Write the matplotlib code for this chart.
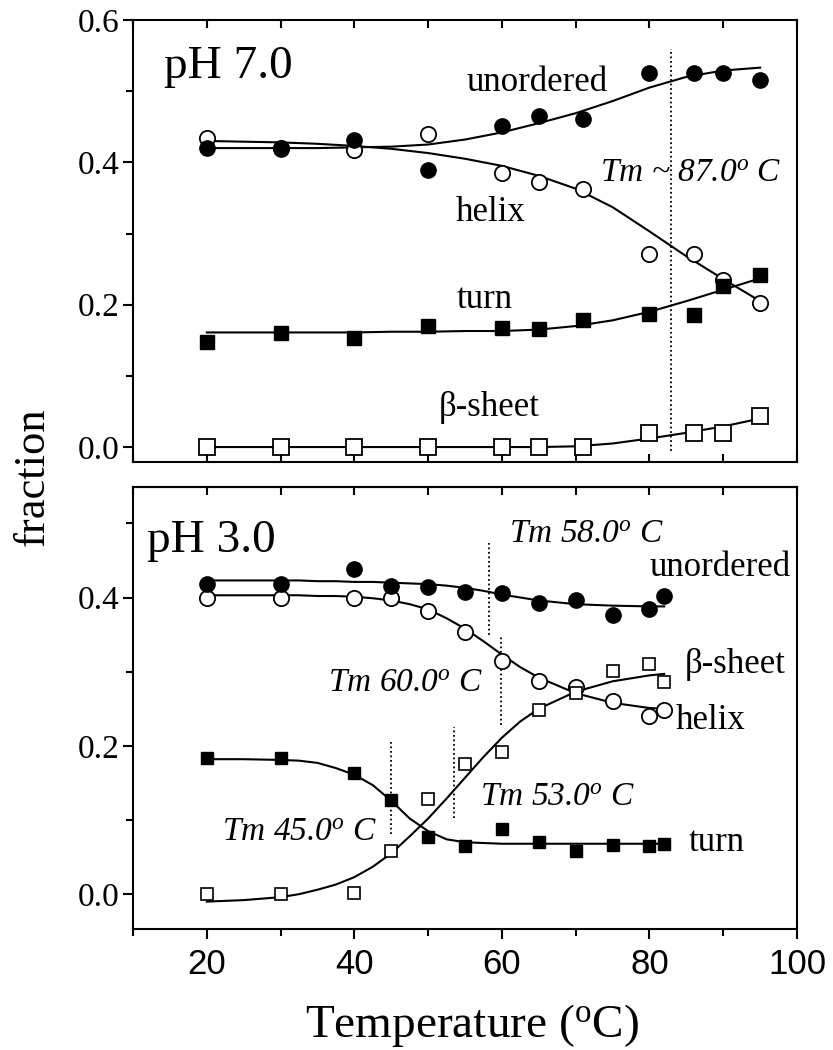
# Thermal unfolding: secondary structure fractions vs temperature at pH 7.0 and pH 3.0

import numpy as np
import matplotlib
matplotlib.use('Agg')
from matplotlib import pyplot as plt
from matplotlib.ticker import MultipleLocator, FormatStrFormatter

plt.rcParams['font.family'] = ['Liberation Serif', 'DejaVu Serif']
plt.rcParams['mathtext.fontset'] = 'custom'
plt.rcParams['mathtext.rm'] = 'Liberation Serif'
plt.rcParams['mathtext.it'] = 'Liberation Serif:italic'

# ---- pH 7.0 data (points) ----
t7 = [20, 30, 40, 50, 60, 65, 71, 80, 86, 90, 95]
unord7 = [0.420, 0.419, 0.431, 0.389, 0.451, 0.465, 0.461, 0.526, 0.526, 0.526, 0.515]
helix7 = [0.434, 0.420, 0.418, 0.440, 0.385, 0.372, 0.362, 0.271, 0.271, 0.235, 0.202]
turn7 = [0.148, 0.160, 0.153, 0.170, 0.167, 0.166, 0.178, 0.187, 0.186, 0.226, 0.241]
beta7 = [0.000, 0.000, 0.000, 0.000, 0.000, 0.000, 0.000, 0.020, 0.020, 0.020, 0.044]

# pH 7.0 fitted curves
tf7 = [20, 25, 30, 35, 40, 45, 50, 55, 60, 65, 70, 75, 80, 85, 90, 95]
unord7_fit = [0.420, 0.420, 0.420, 0.420, 0.421, 0.422, 0.425, 0.432, 0.442, 0.455, 0.469, 0.486, 0.505, 0.520, 0.529, 0.533]
helix7_fit = [0.430, 0.429, 0.428, 0.426, 0.423, 0.419, 0.413, 0.405, 0.395, 0.381, 0.363, 0.337, 0.303, 0.268, 0.236, 0.205]
turn7_fit = [0.161, 0.161, 0.161, 0.161, 0.161, 0.162, 0.162, 0.163, 0.163, 0.165, 0.170, 0.178, 0.190, 0.205, 0.221, 0.237]
beta7_fit = [0.000, 0.000, 0.000, 0.000, 0.000, 0.000, 0.000, 0.000, 0.000, 0.000, 0.001, 0.005, 0.012, 0.020, 0.029, 0.040]

# ---- pH 3.0 data (points) ----
t3 = [20, 30, 40, 45, 50, 55, 60, 65, 70, 75, 80, 82]
unord3 = [0.418, 0.418, 0.439, 0.415, 0.414, 0.407, 0.406, 0.393, 0.397, 0.376, 0.384, 0.402]
helix3 = [0.400, 0.400, 0.400, 0.400, 0.382, 0.353, 0.314, 0.288, 0.279, 0.261, 0.240, 0.248]
turn3 = [0.183, 0.183, 0.163, 0.127, 0.077, 0.065, 0.088, 0.071, 0.058, 0.066, 0.065, 0.068]
beta3 = [0.000, 0.000, 0.001, 0.058, 0.128, 0.176, 0.192, 0.248, 0.271, 0.301, 0.310, 0.286]

# pH 3.0 fitted curves
tf3 = [20, 25, 30, 32.5, 35, 37.5, 40, 42.5, 45, 47.5, 50, 52.5, 55, 57.5, 60, 62.5, 65, 70, 75, 80, 82]
unord3_fit = [0.423, 0.423, 0.423, 0.423, 0.422, 0.422, 0.421, 0.421, 0.420, 0.419, 0.418,
              0.416, 0.413, 0.409, 0.404, 0.400, 0.396, 0.391, 0.389, 0.388, 0.388]
helix3_fit = [0.403, 0.403, 0.403, 0.403, 0.402, 0.402, 0.401, 0.399, 0.396, 0.391, 0.384,
              0.372, 0.358, 0.341, 0.323, 0.306, 0.292, 0.271, 0.258, 0.251, 0.250]
turn3_fit = [0.182, 0.182, 0.181, 0.180, 0.177, 0.170, 0.161, 0.147, 0.126, 0.102, 0.085,
             0.074, 0.070, 0.069, 0.068, 0.068, 0.068, 0.068, 0.068, 0.068, 0.068]
beta3_fit = [-0.010, -0.008, -0.004, 0.000, 0.006, 0.013, 0.023, 0.037, 0.055, 0.078, 0.102,
             0.129, 0.157, 0.185, 0.211, 0.233, 0.250, 0.273, 0.287, 0.295, 0.297]

# Tm guide lines: (x, ymin, ymax)
tm7 = [(82.9, -0.006, 0.559)]
tm3 = [(45.0, 0.081, 0.205), (53.5, 0.103, 0.226), (58.3, 0.350, 0.473), (59.9, 0.228, 0.350)]

fig = plt.figure(figsize=(8.33, 10.5), dpi=100)
ax1 = fig.add_axes([0.1597, 0.560, 0.7971, 0.4210])
ax2 = fig.add_axes([0.1597, 0.1152, 0.7971, 0.4210])

lw = 1.5
line_kw = dict(color='black', lw=lw, zorder=2)
fc = dict(marker='o', ls='none', color='black', ms=11, zorder=4)
oc = dict(marker='o', ls='none', mfc='white', mec='black', mew=1.3, ms=11, zorder=3)
fs_top = dict(marker='s', ls='none', color='black', ms=9.5, zorder=4)
os_top = dict(marker='s', ls='none', mfc='white', mec='black', mew=1.3, ms=11, zorder=3)
fs_bot = dict(marker='s', ls='none', color='black', ms=9, zorder=4)
os_bot = dict(marker='s', ls='none', mfc='white', mec='black', mew=1.2, ms=9, zorder=3)
dot_kw = dict(color='black', lw=1.3, ls=(0, (1, 1.5)), zorder=1)

# Top panel
ax1.plot(tf7, unord7_fit, **line_kw)
ax1.plot(tf7, helix7_fit, **line_kw)
ax1.plot(tf7, turn7_fit, **line_kw)
ax1.plot(tf7, beta7_fit, **line_kw)
ax1.plot(t7, helix7, **oc)
ax1.plot(t7, unord7, **fc)
ax1.plot(t7, beta7, **os_top)
ax1.plot(t7, turn7, **fs_top)
for x, y0, y1 in tm7:
    ax1.plot([x, x], [y0, y1], **dot_kw)

# Bottom panel
ax2.plot(tf3, unord3_fit, **line_kw)
ax2.plot(tf3, helix3_fit, **line_kw)
ax2.plot(tf3, turn3_fit, **line_kw)
ax2.plot(tf3, beta3_fit, **line_kw)
ax2.plot(t3, helix3, **oc)
ax2.plot(t3, unord3, **fc)
ax2.plot(t3, beta3, **os_bot)
ax2.plot(t3, turn3, **fs_bot)
for x, y0, y1 in tm3:
    ax2.plot([x, x], [y0, y1], **dot_kw)

# Axes formatting
for ax in (ax1, ax2):
    ax.set_xlim(10, 100)
    ax.yaxis.set_major_locator(MultipleLocator(0.2))
    ax.yaxis.set_minor_locator(MultipleLocator(0.1))
    ax.yaxis.set_major_formatter(FormatStrFormatter('%.1f'))
    for s in ax.spines.values():
        s.set_linewidth(1.5)
    ax.tick_params(axis='y', which='major', direction='out', length=7, width=1.5,
                   labelsize=24, pad=3, right=False)
    ax.tick_params(axis='y', which='minor', direction='out', length=5, width=1.5, right=False)

ax1.set_ylim(-0.021, 0.6)
ax2.set_ylim(-0.047, 0.549)

ax1.xaxis.set_major_locator(MultipleLocator(10))
ax1.tick_params(axis='x', which='major', direction='in', length=6, width=1.5,
                top=True, bottom=True, labelbottom=False)

ax2.xaxis.set_major_locator(MultipleLocator(20))
ax2.xaxis.set_minor_locator(MultipleLocator(10))
ax2.tick_params(axis='x', which='both', direction='out', width=1.5, top=False)
ax2.tick_params(axis='x', which='major', length=7, pad=7, labelsize=25)
ax2.tick_params(axis='x', which='minor', length=5)
for lab in ax2.get_xticklabels():
    lab.set_fontfamily(['Liberation Sans', 'DejaVu Sans'])

# inward ticks along the top spine of the lower panel
sec = ax2.secondary_xaxis('top')
sec.xaxis.set_major_locator(MultipleLocator(10))
sec.tick_params(direction='in', length=6, width=1.5, labeltop=False)
sec.spines['top'].set_linewidth(1.5)

# Panel texts
ax1.text(14.2, 0.518, 'pH 7.0', fontsize=34, ha='left', va='baseline')
ax1.text(64.8, 0.500, 'unordered', fontsize=25, ha='center', va='baseline')
ax1.text(58.5, 0.317, 'helix', fontsize=25, ha='center', va='baseline')
ax1.text(57.7, 0.195, 'turn', fontsize=25, ha='center', va='baseline')
ax1.text(58.3, 0.043, 'β-sheet', fontsize=25, ha='center', va='baseline')
ax1.text(73.3, 0.373, 'Tm ~ 87.0$^{o}$ C', fontsize=24, style='italic', ha='left', va='baseline')

ax2.text(11.9, 0.461, 'pH 3.0', fontsize=34, ha='left', va='baseline')
ax2.text(60.9, 0.474, 'Tm 58.0$^{o}$ C', fontsize=24, style='italic', ha='left', va='baseline')
ax2.text(80.0, 0.429, 'unordered', fontsize=25, ha='left', va='baseline')
ax2.text(84.8, 0.298, 'β-sheet', fontsize=25, ha='left', va='baseline')
ax2.text(83.6, 0.223, 'helix', fontsize=25, ha='left', va='baseline')
ax2.text(36.4, 0.273, 'Tm 60.0$^{o}$ C', fontsize=24, style='italic', ha='left', va='baseline')
ax2.text(57.0, 0.119, 'Tm 53.0$^{o}$ C', fontsize=24, style='italic', ha='left', va='baseline')
ax2.text(22.1, 0.0715, 'Tm 45.0$^{o}$ C', fontsize=24, style='italic', ha='left', va='baseline')
ax2.text(85.3, 0.058, 'turn', fontsize=25, ha='left', va='baseline')

# Shared axis labels
fig.text(33 / 833, 0.546, 'fraction', fontsize=32, rotation=90, ha='center', va='center')
fig.text(472 / 833, 1 - 1037 / 1050, r'Temperature ($^{\rm o}$C)', fontsize=34,
         ha='center', va='baseline')

fig.savefig('out.png', dpi=100)
